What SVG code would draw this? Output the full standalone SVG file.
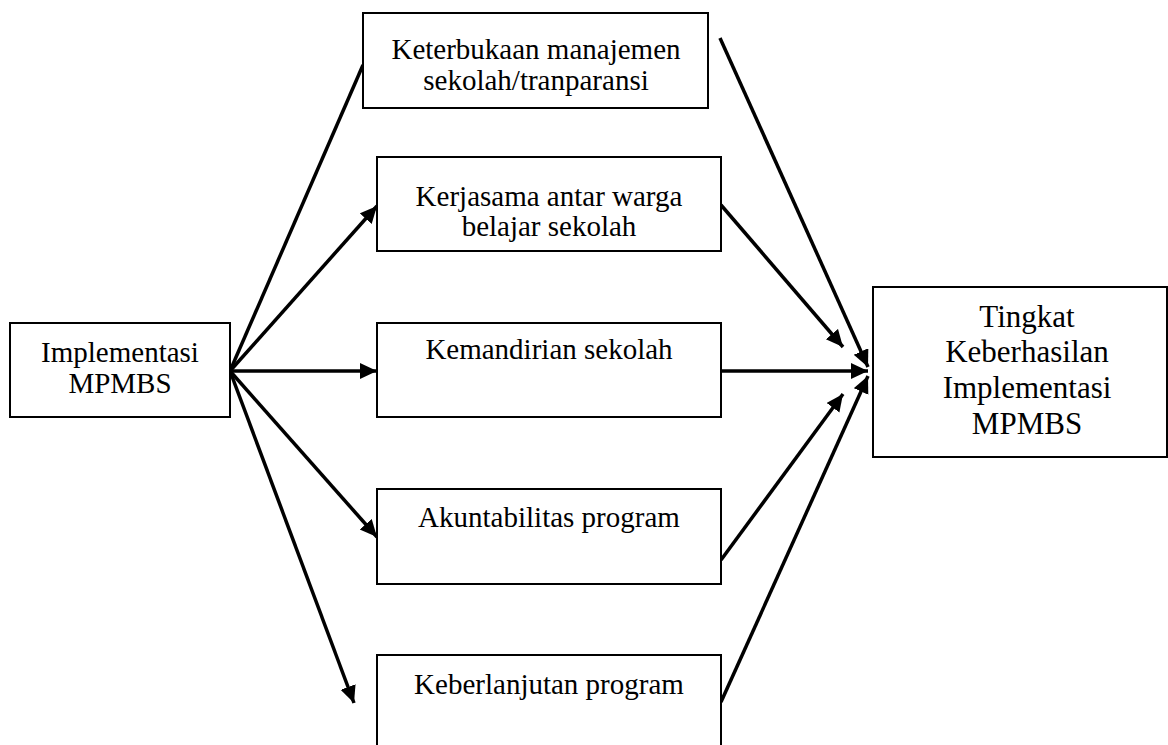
<svg xmlns="http://www.w3.org/2000/svg" width="1168" height="745" viewBox="0 0 1168 745">
<style>
.box{fill:#fff;stroke:#000;stroke-width:2}
.t{font-family:"Liberation Serif","Times New Roman",serif;font-size:29px;fill:#000;text-anchor:middle}
.tb{font-family:"Liberation Serif","Times New Roman",serif;font-size:31px;fill:#000;text-anchor:middle}
.c{stroke:#000;stroke-width:3.5;fill:none}
</style>
<defs>
<marker id="ah" markerUnits="userSpaceOnUse" markerWidth="18" markerHeight="18" refX="17" refY="8" orient="auto">
<path d="M0,0 L17,8 L0,16 z" fill="#000"/>
</marker>
</defs>
<rect width="1168" height="745" fill="#fff"/>
<g id="connectors">
<line class="c" x1="230" y1="371" x2="363" y2="65"/>
<line class="c" x1="230" y1="371" x2="377" y2="206" marker-end="url(#ah)"/>
<line class="c" x1="230" y1="371" x2="377" y2="371" marker-end="url(#ah)"/>
<line class="c" x1="230" y1="371" x2="377" y2="537" marker-end="url(#ah)"/>
<line class="c" x1="230" y1="371" x2="354" y2="703" marker-end="url(#ah)"/>
<line class="c" x1="720" y1="38" x2="868" y2="367" marker-end="url(#ah)"/>
<line class="c" x1="721" y1="205" x2="843" y2="347" marker-end="url(#ah)"/>
<line class="c" x1="721" y1="371" x2="868" y2="371" marker-end="url(#ah)"/>
<line class="c" x1="721" y1="560" x2="843" y2="394" marker-end="url(#ah)"/>
<line class="c" x1="721" y1="702" x2="868" y2="376" marker-end="url(#ah)"/>
</g>
<g id="n-impl">
<rect class="box" x="10" y="323" width="220" height="94"/>
<text class="t" x="120" y="362">Implementasi</text>
<text class="t" x="120" y="393">MPMBS</text>
</g>
<g id="n-keterbukaan">
<rect class="box" x="363" y="13" width="345" height="95"/>
<text class="t" x="536" y="59">Keterbukaan manajemen</text>
<text class="t" x="536" y="90">sekolah/tranparansi</text>
</g>
<g id="n-kerjasama">
<rect class="box" x="377" y="157" width="344" height="94"/>
<text class="t" x="549" y="206">Kerjasama antar warga</text>
<text class="t" x="549" y="236">belajar sekolah</text>
</g>
<g id="n-kemandirian">
<rect class="box" x="377" y="323" width="344" height="94"/>
<text class="t" x="549" y="359">Kemandirian sekolah</text>
</g>
<g id="n-akuntabilitas">
<rect class="box" x="377" y="489" width="344" height="95"/>
<text class="t" x="549" y="527">Akuntabilitas program</text>
</g>
<g id="n-keberlanjutan">
<rect class="box" x="377" y="655" width="344" height="100"/>
<text class="t" x="549" y="694">Keberlanjutan program</text>
</g>
<g id="n-tingkat">
<rect class="box" x="873" y="287" width="294" height="170"/>
<text class="tb" x="1027" y="327">Tingkat</text>
<text class="tb" x="1027" y="362">Keberhasilan</text>
<text class="tb" x="1027" y="398">Implementasi</text>
<text class="tb" x="1027" y="434">MPMBS</text>
</g>
</svg>
